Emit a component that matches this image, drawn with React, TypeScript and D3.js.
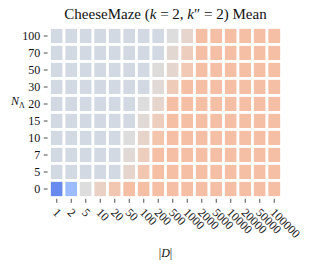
import { useEffect, useRef } from 'react';
import * as d3 from 'd3';

// |D| values along the x axis
const datasetSizes = ['1', '2', '5', '10', '20', '50', '100', '200', '500', '1000', '2000', '5000', '10000', '20000', '50000', '100000'];
// N_Λ values, top row first
const nLambda = ['100', '70', '50', '30', '20', '15', '10', '7', '5', '0'];

// mean values per row (same order as nLambda), one per dataset size
const row100 = [-0.04, -0.04, -0.04, -0.04, -0.04, -0.04, -0.04, -0.04, 0.0, 0.07, 0.24, 0.24, 0.24, 0.24, 0.24, 0.24];
const row70 = [-0.04, -0.04, -0.04, -0.04, -0.04, -0.04, -0.04, -0.04, 0.05, 0.13, 0.24, 0.24, 0.24, 0.24, 0.24, 0.24];
const row50 = [-0.04, -0.04, -0.04, -0.04, -0.04, -0.04, -0.04, 0.01, 0.06, 0.17, 0.24, 0.24, 0.24, 0.24, 0.24, 0.24];
const row30 = [-0.04, -0.04, -0.04, -0.04, -0.04, -0.04, -0.04, 0.03, 0.15, 0.24, 0.24, 0.24, 0.24, 0.24, 0.24, 0.24];
const row20 = [-0.04, -0.04, -0.04, -0.04, -0.04, -0.04, 0.0, 0.07, 0.24, 0.24, 0.24, 0.24, 0.24, 0.24, 0.24, 0.24];
const row15 = [-0.04, -0.04, -0.04, -0.04, -0.04, -0.04, 0.03, 0.13, 0.24, 0.24, 0.24, 0.24, 0.24, 0.24, 0.24, 0.24];
const row10 = [-0.04, -0.04, -0.04, -0.04, -0.04, 0.0, 0.08, 0.2, 0.24, 0.24, 0.24, 0.24, 0.24, 0.24, 0.24, 0.24];
const row7 = [-0.04, -0.04, -0.04, -0.04, -0.04, 0.03, 0.13, 0.24, 0.24, 0.24, 0.24, 0.24, 0.24, 0.24, 0.24, 0.24];
const row5 = [-0.04, -0.04, -0.04, -0.04, -0.04, 0.07, 0.18, 0.24, 0.24, 0.24, 0.24, 0.24, 0.24, 0.24, 0.24, 0.24];
const row0 = [-0.66, -0.3, 0.0, 0.1, 0.18, 0.24, 0.24, 0.24, 0.24, 0.24, 0.24, 0.24, 0.24, 0.24, 0.24, 0.24];

const rows = [row100, row70, row50, row30, row20, row15, row10, row7, row5, row0];

// matplotlib coolwarm, sampled every 0.1
const coolwarmStops = ['#3b4cc0', '#5572df', '#7093f3', '#8db0fe', '#aac7fd', '#dddddd', '#f4c5ad', '#f7a889', '#ee8468', '#d65244', '#b40426'];

const W = 310;
const H = 269;
const font = '"Liberation Serif", "DejaVu Serif", serif';

export default function App() {
  const ref = useRef<SVGSVGElement | null>(null);

  useEffect(() => {
    if (!ref.current) return;
    const svg = d3.select(ref.current);
    svg.selectAll('*').remove();

    const x = d3.scaleBand().domain(datasetSizes).range([49.5, 281.5]).padding(0);
    const y = d3.scaleBand().domain(nLambda).range([27.5, 197.5]).padding(0);

    const coolwarm = d3.scaleLinear<string>()
      .domain(coolwarmStops.map((_, i) => i / 10))
      .range(coolwarmStops)
      .interpolate(d3.interpolateRgb);
    const color = (v: number) => coolwarm((v + 1) / 2);

    const cells = rows.flatMap((r, i) => r.map((v, j) => ({ row: nLambda[i], col: datasetSizes[j], v })));

    svg.append('g')
      .selectAll('rect')
      .data(cells)
      .enter()
      .append('rect')
      .attr('x', d => x(d.col)!)
      .attr('y', d => y(d.row)!)
      .attr('width', x.bandwidth())
      .attr('height', y.bandwidth())
      .attr('fill', d => color(d.v))
      .attr('stroke', '#fff')
      .attr('stroke-width', 2.7);

    // y axis
    const yAxis = svg.append('g')
      .attr('transform', 'translate(47.6,0)')
      .call(d3.axisLeft(y).tickSize(3.8).tickPadding(3.6));
    yAxis.select('.domain').remove();
    yAxis.selectAll('line').attr('stroke', '#222').attr('stroke-width', 0.8);
    yAxis.selectAll('text')
      .attr('fill', '#111')
      .style('font-family', font)
      .style('font-size', '12px');

    // x axis
    const xAxis = svg.append('g')
      .attr('transform', 'translate(0,198.8)')
      .call(d3.axisBottom(x).tickSize(4).tickPadding(2));
    xAxis.select('.domain').remove();
    xAxis.selectAll('line').attr('stroke', '#222').attr('stroke-width', 0.8);
    xAxis.selectAll('text')
      .attr('fill', '#111')
      .attr('y', 0)
      .attr('dy', 0)
      .attr('text-anchor', 'start')
      .attr('transform', 'translate(-4.5,14.5) rotate(45)')
      .style('font-family', font)
      .style('font-size', '12px');

    // title
    const title = svg.append('text')
      .attr('x', 165.5)
      .attr('y', 18.5)
      .attr('text-anchor', 'middle')
      .style('font-family', font)
      .style('font-size', '15px')
      .attr('fill', '#111');
    title.append('tspan').text('CheeseMaze (');
    title.append('tspan').attr('font-style', 'italic').text('k');
    title.append('tspan').text(' = 2, ');
    title.append('tspan').attr('font-style', 'italic').text('k');
    title.append('tspan').text('\u2033 = 2) Mean');

    // y label
    const yl = svg.append('text')
      .attr('x', 11)
      .attr('y', 105)
      .style('font-family', font)
      .style('font-size', '12px')
      .attr('fill', '#111');
    yl.append('tspan').attr('font-style', 'italic').text('N');
    yl.append('tspan').attr('dy', 2.5).style('font-size', '8px').text('\u039b');

    // x label
    const xl = svg.append('text')
      .attr('x', 165.5)
      .attr('y', 257)
      .attr('text-anchor', 'middle')
      .style('font-family', font)
      .style('font-size', '12px')
      .attr('fill', '#111');
    xl.append('tspan').text('|');
    xl.append('tspan').attr('font-style', 'italic').text('D');
    xl.append('tspan').text('|');
  }, []);

  return <svg ref={ref} width={W} height={H} style={{ position: 'absolute', left: 0, top: 0, background: '#fff' }} />;
}
